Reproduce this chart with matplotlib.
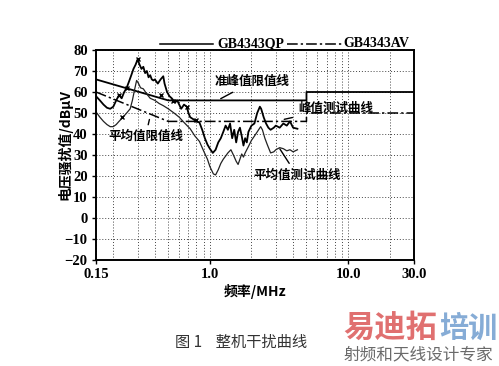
import numpy as np
import matplotlib
matplotlib.use("Agg")
import matplotlib.pyplot as plt
from matplotlib.lines import Line2D

# ---- data ----
# GB4343 limits (MHz, dBuV)
qp_freq = [0.15, 0.5, 0.5, 5.0, 5.0, 30.0]
qp_level = [66, 56, 56, 56, 60, 60]
av_freq = [0.15, 0.5, 0.5, 5.0, 5.0, 30.0]
av_level = [60, 46, 46, 46, 50, 50]

# peak measurement curve
pk_freq = [0.150, 0.160, 0.170, 0.180, 0.190, 0.200, 0.210, 0.220, 0.230, 0.240,
           0.250, 0.260, 0.270, 0.280, 0.290, 0.300, 0.310, 0.320, 0.330, 0.340,
           0.350, 0.360, 0.370, 0.380, 0.390, 0.400, 0.420, 0.440, 0.460, 0.470,
           0.490, 0.510, 0.530, 0.560, 0.580, 0.600, 0.620, 0.650, 0.680, 0.700,
           0.720, 0.760, 0.800, 0.840, 0.880, 0.920, 0.960, 1.000, 1.050, 1.100,
           1.150, 1.200, 1.250, 1.300, 1.350, 1.400, 1.450, 1.500, 1.550, 1.600,
           1.650, 1.700, 1.750, 1.800, 1.850, 1.900, 2.000, 2.100, 2.200, 2.300,
           2.350, 2.450, 2.550, 2.650, 2.750, 2.900, 3.000, 3.200, 3.400, 3.600,
           3.800, 4.000, 4.300]
pk_level = [58, 56, 54, 52.5, 52, 53, 56, 58.5, 57, 60,
            62, 65, 68, 71, 73, 75.5, 73, 71, 72, 69,
            70, 67, 68, 66, 65.5, 66, 64, 66, 67.5, 64,
            60, 58, 57, 55, 56, 54, 52, 54, 53, 50,
            48, 47, 46, 45.5, 42, 38, 35, 33, 31, 32.5,
            36, 38, 41, 44, 42, 45, 38, 42, 36, 41,
            43, 39, 34.5, 38, 36, 41, 44, 45, 50, 53,
            52, 48, 45, 43, 42, 43, 44, 43, 45, 44,
            46, 43, 42.5]

# average measurement curve
avg_freq = [0.150, 0.160, 0.170, 0.180, 0.190, 0.200, 0.210, 0.220, 0.235, 0.250,
            0.265, 0.275, 0.285, 0.295, 0.305, 0.315, 0.330, 0.350, 0.370, 0.400,
            0.430, 0.460, 0.500, 0.550, 0.600, 0.650, 0.720, 0.780, 0.840, 0.900,
            0.960, 1.000, 1.060, 1.100, 1.150, 1.200, 1.250, 1.300, 1.350, 1.420,
            1.480, 1.550, 1.600, 1.650, 1.700, 1.750, 1.800, 1.900, 2.000, 2.100,
            2.200, 2.330, 2.400, 2.500, 2.600, 2.750, 2.900, 3.000, 3.200, 3.400,
            3.600, 3.800, 4.000, 4.300]
avg_level = [50.5, 48, 46, 44.5, 43.5, 43.5, 44.5, 46, 48, 50,
             52, 56, 61, 65.5, 64, 62, 61.5, 59, 57, 56,
             54.5, 53.5, 52, 50, 48, 45.5, 42.5, 39, 36.5, 32,
             28, 24.5, 21, 20.5, 23, 26, 28, 29.5, 31, 32.5,
             30, 27, 25.5, 28, 30.5, 29, 31, 34, 37, 39,
             41, 43.5, 42, 38, 35, 31, 31.5, 32.5, 33.5, 33,
             32, 32.5, 31.5, 32.5]

# x markers on the curves
mk_freq = [0.22, 0.25, 0.30, 0.44, 0.54, 0.68, 0.80, 0.23]
mk_level = [58.5, 62, 75.5, 58.5, 55.5, 53, 46.5, 48]

x_ticks = [0.15, 1.0, 10.0, 30.0]
x_ticklabels = ["0.15", "1.0", "10.0", "30.0"]
y_ticks = list(range(-20, 81, 10))

CJK = ["Noto Sans CJK SC", "DejaVu Sans"]
SERIF = "Liberation Serif"

fig = plt.figure(figsize=(4.99, 3.66), dpi=100)
ax = fig.add_axes([0.1924, 0.2896, 0.6373, 0.5738])

ax.plot(qp_freq, qp_level, color="black", lw=1.3)
ax.plot(av_freq, av_level, color="black", lw=1.1, linestyle=(0, (7, 2, 1.5, 2)))
ax.plot(pk_freq, pk_level, color="black", lw=1.3)
ax.plot(avg_freq, avg_level, color="#222222", lw=0.9)
ax.plot(mk_freq, mk_level, "x", color="black", ms=3.5, mew=1.0)

ax.set_xscale("log")
ax.set_xlim(0.15, 30)
ax.set_ylim(-20, 80)
ax.set_xticks(x_ticks)
ax.set_xticklabels(x_ticklabels)
ax.set_yticks(y_ticks)
ax.set_yticklabels([str(v).replace("-", "\u2212") for v in y_ticks])
ax.tick_params(axis="both", which="major", direction="out", length=3, width=1, pad=3)
ax.tick_params(axis="x", which="minor", length=0)
for lab in ax.get_xticklabels() + ax.get_yticklabels():
    lab.set_fontfamily(SERIF)
    lab.set_fontweight("bold")
    lab.set_fontsize(10.5)

ax.grid(True, which="both", axis="x", color="#444444", linestyle=(0, (1, 2)), lw=0.7)
ax.grid(True, which="major", axis="y", color="#444444", linestyle=(0, (1, 2)), lw=0.7)
for s in ax.spines.values():
    s.set_linewidth(1.4)

ax.set_xlabel("频率/MHz", family=CJK, fontweight="bold", fontsize=10, labelpad=2)
fig.text(0.130, 0.604, "电压骚扰值/dBμV", family=CJK, fontweight="bold",
         fontsize=10, rotation=90, ha="center", va="center")

# annotations
ann = dict(family=CJK, fontweight="bold", fontsize=9)
arrow = dict(arrowstyle="-", color="black", lw=1.0)
ax.annotate("准峰值限值线", xy=(1.15, 56.2), xytext=(1.09, 64.9), va="center",
            ha="left", arrowprops=arrow, **ann)
ax.annotate("峰值测试曲线", xy=(3.30, 46.7), xytext=(4.34, 52.4), va="center",
            ha="left", arrowprops=arrow, **ann)
ax.annotate("平均值测试曲线", xy=(3.13, 34), xytext=(2.05, 20.5), va="center",
            ha="left", arrowprops=arrow, **ann)
ax.annotate("平均值限值线", xy=(0.369, 48.2), xytext=(0.183, 38.7), va="center",
            ha="left", arrowprops=arrow, **ann)

# legend above the axes
fig.add_artist(Line2D([0.3206, 0.4269], [0.8798, 0.8798], color="black", lw=1.1))
fig.text(0.4349, 0.8798, "GB4343QP", family=SERIF, fontweight="bold",
         fontsize=10, va="center")
fig.add_artist(Line2D([0.5752, 0.6854], [0.8798, 0.8798], color="black", lw=1.1,
                      linestyle=(0, (7, 2, 1.5, 2))))
fig.text(0.6874, 0.8798, "GB4343AV", family=SERIF, fontweight="bold",
         fontsize=10, va="center")

# caption and watermark
fig.text(0.351, 0.063, "图 1    整机干扰曲线", family=CJK, fontsize=11,
         color="#333333", va="center")
fig.text(0.689, 0.105, "易迪拓", family=CJK, fontweight="bold", fontsize=22.5,
         color="#e07070", va="center")
fig.text(0.880, 0.105, "培训", family=CJK, fontweight="bold", fontsize=21,
         color="#86acd6", va="center")
fig.text(0.689, 0.030, "射频和天线设计专家", family=CJK, fontsize=12,
         color="#6a6a6a", va="center")

fig.savefig("out.png", dpi=100)
